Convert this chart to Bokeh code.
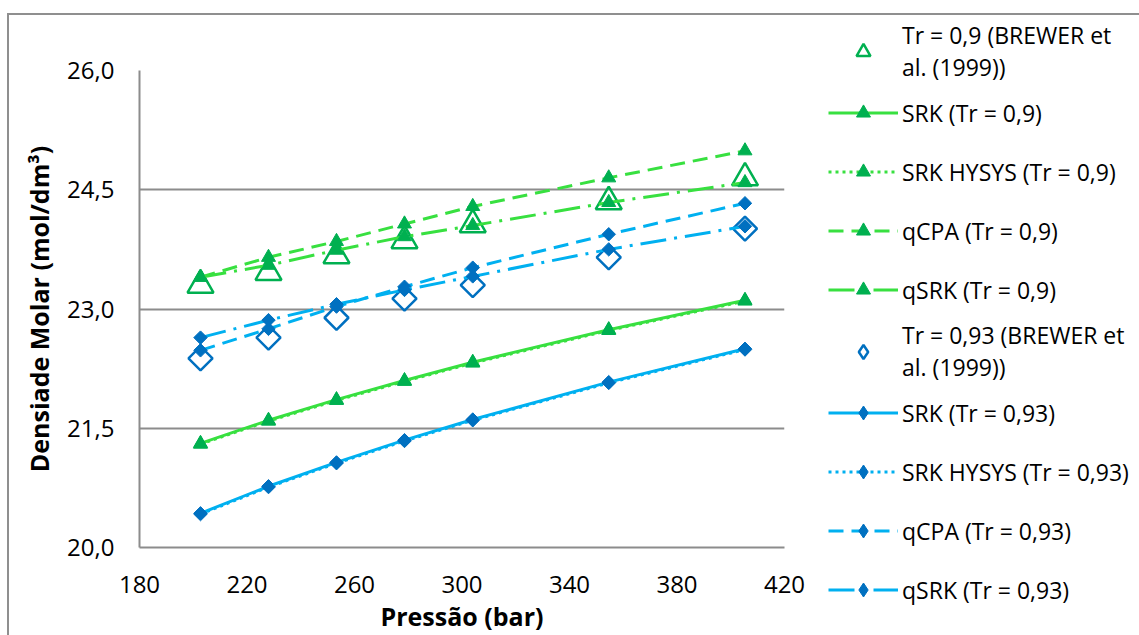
import numpy as np
from bokeh.plotting import figure
from bokeh.models import Legend, LegendItem, FixedTicker, Range1d
from bokeh.embed import file_html
from bokeh.resources import INLINE

# ---------------- data ----------------
pressure = [202.7, 228.0, 253.3, 278.6, 304.0, 354.6, 405.3]

brewer_09 = [23.30, 23.46, 23.67, 23.86, 24.06, 24.35, 24.65]
srk_09 = [21.31, 21.60, 21.86, 22.10, 22.33, 22.74, 23.11]
srk_hysys_09 = [21.30, 21.59, 21.85, 22.09, 22.32, 22.73, 23.10]
qcpa_09 = [23.40, 23.65, 23.85, 24.07, 24.29, 24.65, 24.99]
qsrk_09 = [23.40, 23.55, 23.74, 23.91, 24.05, 24.34, 24.59]

brewer_093 = [22.38, 22.64, 22.89, 23.13, 23.30, 23.65, 24.01]
srk_093 = [20.43, 20.77, 21.07, 21.35, 21.61, 22.08, 22.50]
srk_hysys_093 = [20.42, 20.76, 21.06, 21.34, 21.60, 22.07, 22.49]
qcpa_093 = [22.48, 22.75, 23.03, 23.28, 23.52, 23.94, 24.33]
qsrk_093 = [22.64, 22.86, 23.06, 23.24, 23.41, 23.75, 24.04]

x_ticks = [180, 220, 260, 300, 340, 380, 420]
y_ticks = [20.0, 21.5, 23.0, 24.5, 26.0]
y_tick_labels = ["20,0", "21,5", "23,0", "24,5", "26,0"]

labels = [
    "Tr = 0,9 (BREWER et\nal. (1999))", "SRK (Tr = 0,9)", "SRK HYSYS (Tr = 0,9)",
    "qCPA (Tr = 0,9)", "qSRK (Tr = 0,9)",
    "Tr = 0,93 (BREWER et\nal. (1999))", "SRK (Tr = 0,93)", "SRK HYSYS (Tr = 0,93)",
    "qCPA (Tr = 0,93)", "qSRK (Tr = 0,93)",
]

# ---------------- style ----------------
FONT = "Open Sans"
GREEN_LINE = "#38E040"
GREEN_MK = "#00B050"
BLUE_LINE = "#00B0F0"
BLUE_MK = "#0070C0"
GRID = "#8C8C8C"

p = figure(frame_width=645, frame_height=477, output_backend="svg",
           toolbar_location=None,
           x_range=Range1d(180, 420), y_range=Range1d(20, 26),
           min_border_left=130, min_border_top=55, min_border_bottom=86,
           min_border_right=355)
p.styles = {"border-left": "2px solid #8F8F8F", "border-top": "2px solid #8F8F8F",
            "margin-top": "13px", "margin-left": "7px"}
p.outline_line_color = None
p.background_fill_color = "white"
p.border_fill_color = "white"

p.xgrid.grid_line_color = None
p.ygrid.grid_line_color = GRID
p.ygrid.grid_line_width = 2
p.ygrid.ticker = FixedTicker(ticks=y_ticks)

p.xaxis.ticker = FixedTicker(ticks=x_ticks)
p.yaxis.ticker = FixedTicker(ticks=y_ticks)
p.yaxis.major_label_overrides = {t: l for t, l in zip(y_ticks, y_tick_labels)}
for ax in (p.xaxis[0], p.yaxis[0]):
    ax.axis_line_color = GRID
    ax.axis_line_width = 2
    ax.major_tick_line_color = None
    ax.minor_tick_line_color = None
    ax.major_tick_out = 0
    ax.major_tick_in = 0
    ax.minor_tick_out = 0
    ax.minor_tick_in = 0
    ax.major_label_text_font = FONT
    ax.major_label_text_font_size = "24px"
    ax.major_label_text_color = "black"
    ax.axis_label_text_font = FONT
    ax.axis_label_text_font_size = "25px"
    ax.axis_label_text_font_style = "bold"
    ax.axis_label_text_color = "black"
p.xaxis.axis_label = "Pressão (bar)"
p.yaxis.axis_label = "Densiade Molar (mol/dm³)"
p.xaxis.major_label_standoff = 28
p.yaxis.major_label_standoff = 25
p.xaxis.axis_label_standoff = 3
p.yaxis.axis_label_standoff = 8

items = []

def exp_series(y, marker, color, size, label, legend_marker):
    kw = dict(angle=np.pi / 4) if marker == "square" else {}
    r = p.scatter(pressure, y, marker=marker, size=size, fill_color=None,
                  line_color=color, line_width=2.5, **kw)
    rs = [r]
    if legend_marker != marker:
        proxy = p.scatter(pressure, y, marker=legend_marker, size=size,
                          fill_color=None, line_color=color, line_width=2.5,
                          visible=False)
        rs = [proxy]
    items.append(LegendItem(label=label, renderers=rs))

def model_series(y, lcolor, mcolor, marker, msize, dash, label, legend_marker):
    rl = p.line(pressure, y, line_color=lcolor, line_width=3, line_dash=dash)
    kw = dict(angle=np.pi / 4) if marker == "square" else {}
    rm = p.scatter(pressure, y, marker=marker, size=msize, fill_color=mcolor,
                   line_color=mcolor, **kw)
    rs = [rl, rm]
    if legend_marker != marker:
        proxy = p.scatter(pressure, y, marker=legend_marker, size=msize,
                          fill_color=mcolor, line_color=mcolor, visible=False)
        rs = [rl, proxy]
    items.append(LegendItem(label=label, renderers=rs))

exp_series(brewer_09, "triangle", GREEN_MK, 26, labels[0], "triangle")
model_series(srk_09, GREEN_LINE, GREEN_MK, "triangle", 14, "solid", labels[1], "triangle")
model_series(srk_hysys_09, GREEN_LINE, GREEN_MK, "triangle", 14, "3 4", labels[2], "triangle")
model_series(qcpa_09, GREEN_LINE, GREEN_MK, "triangle", 14, "15 8", labels[3], "triangle")
model_series(qsrk_09, GREEN_LINE, GREEN_MK, "triangle", 14, "26 8 3 8", labels[4], "triangle")

exp_series(brewer_093, "square", BLUE_MK, 17, labels[5], "diamond")
model_series(srk_093, BLUE_LINE, BLUE_MK, "square", 9.5, "solid", labels[6], "diamond")
model_series(srk_hysys_093, BLUE_LINE, BLUE_MK, "square", 9.5, "3 4", labels[7], "diamond")
model_series(qcpa_093, BLUE_LINE, BLUE_MK, "square", 9.5, "15 8", labels[8], "diamond")
model_series(qsrk_093, BLUE_LINE, BLUE_MK, "square", 9.5, "26 8 3 8", labels[9], "diamond")

legend = Legend(items=items, location=(44, -72), padding=0, margin=0,
                spacing=0, label_height=59, glyph_height=35, glyph_width=70,
                label_standoff=4, label_text_font=FONT,
                label_text_line_height=1.1,
                label_text_font_size="23px", label_text_color="black",
                background_fill_alpha=0, border_line_color=None)
p.add_layout(legend, "right")

open("out.html", "w").write(file_html(p, INLINE))
